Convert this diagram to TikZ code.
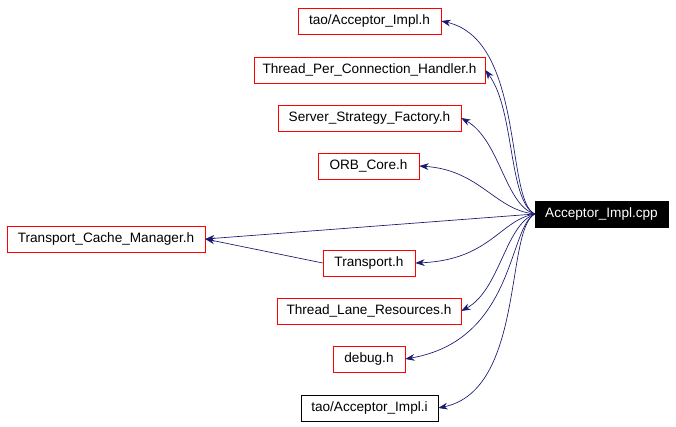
\documentclass[tikz,border=0pt]{standalone}
\usepackage{fontspec}
\setmainfont{Liberation Sans}
\usetikzlibrary{arrows.meta}
\begin{document}
\begin{tikzpicture}[x=0.75pt,y=-0.75pt,
 box/.style={draw=red,minimum height=19.5pt,inner xsep=2pt,font=\fontsize{10.2}{12}\selectfont,anchor=center},
 edge/.style={draw={rgb,255:red,25;green,25;blue,112},-{Stealth[length=7pt,width=5pt]},line width=0.5pt}]
\useasboundingbox (0,0) rectangle (676,426);
\node[box,minimum width=107.25pt] (a) at (369.5,21) {tao/Acceptor\_Impl.h};
\node[box,minimum width=173.25pt] (b) at (369.5,70) {Thread\_Per\_Connection\_Handler.h};
\node[box,minimum width=137.25pt] (c) at (369.5,118) {Server\_Strategy\_Factory.h};
\node[box,minimum width=75.75pt] (d) at (368.5,166) {ORB\_Core.h};
\node[box,fill=black,draw=black,text=white,minimum width=99.75pt] (m) at (601.5,214) {Acceptor\_Impl.cpp};
\node[box,minimum width=148.5pt] (t) at (106,239) {Transport\_Cache\_Manager.h};
\node[box,minimum width=69pt] (e) at (369,263) {Transport.h};
\node[box,minimum width=138pt] (f) at (369,311) {Thread\_Lane\_Resources.h};
\node[box,minimum width=54pt] (g) at (369,359) {debug.h};
\node[box,draw=black,minimum width=102.75pt] (h) at (369.5,408) {tao/Acceptor\_Impl.i};
\draw[edge] (m.west) .. controls (505,200) and (525,40) .. (a.east);
\draw[edge] (m.west) .. controls (508,200) and (515,110) .. (b.east);
\draw[edge] (m.west) .. controls (505,205) and (500,140) .. (c.east);
\draw[edge] (m.west) .. controls (495,210) and (480,170) .. (d.east);
\draw[edge] (m.west) -- (t.east);
\draw[edge] (m.west) .. controls (500,220) and (490,260) .. (e.east);
\draw[edge] (m.west) .. controls (505,225) and (500,290) .. (f.east);
\draw[edge] (m.west) .. controls (508,228) and (515,340) .. (g.east);
\draw[edge] (m.west) .. controls (505,230) and (525,390) .. (h.east);
\draw[edge] (e.west) -- (t.east);
\end{tikzpicture}
\end{document}
